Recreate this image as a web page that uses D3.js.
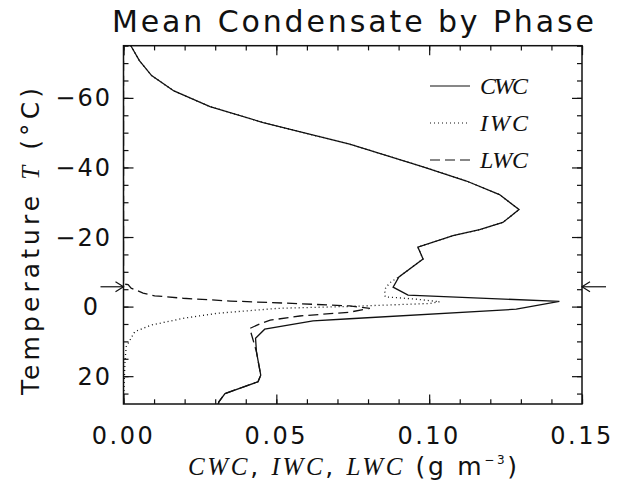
<!DOCTYPE html>
<html>
<head>
<meta charset="utf-8">
<script src="https://cdn.jsdelivr.net/npm/d3@7"></script>
<style>
  body { margin: 0; background: #fff; }
  svg { display: block; }
</style>
</head>
<body>
<svg id="chart" width="620" height="487"></svg>
<script>
// Mean condensed water content profiles (g m^-3) against temperature (°C)
const cwcTemp  = [-75, -70.7, -66.4, -62, -57.5, -52.9, -46.7, -40.2, -36.1, -32.2, -27.9, -24.2, -22.1, -20.4, -17.1, -13.7, -8.5, -5.6, -3.3, -1.5, 0.75, 3.5, 4.1, 6.5, 9.1, 13, 19.7, 21.6, 25, 27.4, 28];
const cwcValue = [0.0024, 0.0052, 0.0092, 0.0165, 0.0283, 0.0457, 0.074, 0.098, 0.1122, 0.123, 0.1294, 0.1241, 0.1165, 0.1078, 0.0963, 0.098, 0.0901, 0.0882, 0.0931, 0.1426, 0.1285, 0.074, 0.062, 0.0462, 0.0432, 0.0435, 0.0449, 0.044, 0.0332, 0.0312, 0.031];

const iwcTemp  = [-75, -70.7, -66.4, -62, -57.5, -52.9, -46.7, -40.2, -36.1, -32.2, -27.9, -24.2, -22.1, -20.4, -17.1, -13.7, -8.5, -7.2, -5.5, -4.3, -2.8, -2.2, -1.4, -0.9, -0.05, 0.5, 1.9, 3.3, 5.3, 7.2, 11.5, 15.4, 28];
const iwcValue = [0.0024, 0.0052, 0.0092, 0.0165, 0.0283, 0.0457, 0.074, 0.098, 0.1122, 0.123, 0.1294, 0.1241, 0.1165, 0.1078, 0.0963, 0.098, 0.0901, 0.0876, 0.0858, 0.0855, 0.0856, 0.095, 0.1034, 0.1002, 0.074, 0.0505, 0.0309, 0.02, 0.0091, 0.0037, 0.0009, 0.0005, 0];

const lwcTemp  = [-75, -6.5, -6.3, -5.3, -3.9, -3.1, -2.4, -1.6, -1.0, -0.2, 0.5, 1.6, 2.7, 3.9, 5.0, 6.3, 9.6, 13, 19.7, 21.6, 25, 27.4, 28];
const lwcValue = [0, 0, 0.0015, 0.0025, 0.0064, 0.0102, 0.0195, 0.035, 0.053, 0.074, 0.0806, 0.074, 0.0577, 0.048, 0.0445, 0.0413, 0.0424, 0.0435, 0.0449, 0.044, 0.0332, 0.0312, 0.031];

// Freezing-level marker temperature (arrows on both frame edges)
const markerTemp = -5.7;

const xMajorTicks = [0, 0.05, 0.10, 0.15];
const xMinorTicks = d3.range(0, 0.1501, 0.01);
const yMajorTicks = [-60, -40, -20, 0, 20];
const yMinorTicks = d3.range(-75, 28.01, 5);

const seriesNames = ["CWC", "IWC", "LWC"];
const seriesDash  = [null, "1,3", "10,5"];

const sans = "'DejaVu Sans', 'Liberation Sans', sans-serif";
const serif = "'Liberation Serif', 'DejaVu Serif', serif";
const ink = "#111";

const svg = d3.select("#chart");

const x = d3.scaleLinear().domain([0, 0.15]).range([123.5, 582]);
const y = d3.scaleLinear().domain([-75, 28]).range([45.7, 404]);

const [x0, x1] = x.range();
const [y0, y1] = y.range();

// Frame
svg.append("rect")
  .attr("x", x0).attr("y", y0)
  .attr("width", x1 - x0).attr("height", y1 - y0)
  .attr("fill", "none").attr("stroke", ink).attr("stroke-width", 1.5);

// Inward-pointing ticks on all four sides
function tickAxis(gen, scale, values, size, tx, ty) {
  const g = svg.append("g")
    .attr("transform", `translate(${tx},${ty})`)
    .call(gen(scale).tickValues(values).tickSize(size).tickFormat(""));
  g.select(".domain").remove();
  g.selectAll(".tick line").attr("stroke", ink).attr("stroke-width", 1.2);
  return g;
}
tickAxis(d3.axisBottom, x, xMinorTicks, -4.7, 0, y1);
tickAxis(d3.axisBottom, x, xMajorTicks, -9.5, 0, y1);
tickAxis(d3.axisTop, x, xMinorTicks, -4.7, 0, y0);
tickAxis(d3.axisTop, x, xMajorTicks, -9.5, 0, y0);
tickAxis(d3.axisLeft, y, yMinorTicks, -5, x0, 0);
tickAxis(d3.axisLeft, y, yMajorTicks, -10, x0, 0);
tickAxis(d3.axisRight, y, yMinorTicks, -5, x1, 0);
tickAxis(d3.axisRight, y, yMajorTicks, -10, x1, 0);

// Tick labels
const fmtX = d3.format(".2f");
svg.append("g").selectAll("text")
  .data(xMajorTicks).join("text")
  .attr("x", d => x(d)).attr("y", 444)
  .attr("text-anchor", "middle")
  .attr("font-family", sans).attr("font-size", 24)
  .attr("letter-spacing", 2.5)
  .attr("fill", ink)
  .text(d => fmtX(d));

const fmtY = d3.format("d");
svg.append("g").selectAll("text")
  .data(yMajorTicks).join("text")
  .attr("x", d => d === 0 ? 100 : 112).attr("y", d => y(d) + 8.5)
  .attr("text-anchor", "end")
  .attr("font-family", sans).attr("font-size", 24)
  .attr("letter-spacing", 2)
  .attr("fill", ink)
  .text(d => fmtY(d));

// Title
svg.append("text")
  .attr("x", 112).attr("y", 32)
  .attr("font-family", sans).attr("font-size", 30)
  .attr("textLength", 482).attr("lengthAdjust", "spacing")
  .attr("fill", ink)
  .text("Mean Condensate by Phase");

// X-axis title
const xt = svg.append("text")
  .attr("x", 188).attr("y", 475)
  .attr("font-size", 25).attr("fill", ink)
  .attr("textLength", 329).attr("lengthAdjust", "spacing");
xt.append("tspan").attr("font-family", serif).attr("font-style", "italic").text("CWC");
xt.append("tspan").attr("font-family", sans).text(", ");
xt.append("tspan").attr("font-family", serif).attr("font-style", "italic").text("IWC");
xt.append("tspan").attr("font-family", sans).text(", ");
xt.append("tspan").attr("font-family", serif).attr("font-style", "italic").text("LWC");
xt.append("tspan").attr("font-family", sans).text(" (g m");
xt.append("tspan").attr("font-family", sans).attr("font-size", 12).attr("dy", -11).text("−3");
xt.append("tspan").attr("font-family", sans).attr("dy", 11).text(")");

// Y-axis title
const yt = svg.append("text")
  .attr("transform", "translate(39,395) rotate(-90)")
  .attr("font-size", 25).attr("fill", ink)
  .attr("textLength", 307).attr("lengthAdjust", "spacing");
yt.append("tspan").attr("font-family", sans).text("Temperature ");
yt.append("tspan").attr("font-family", serif).attr("font-style", "italic").text("T");
yt.append("tspan").attr("font-family", sans).text(" (°C)");

// Profiles
const series = [
  cwcTemp.map((t, i) => ({ t, v: cwcValue[i] })),
  iwcTemp.map((t, i) => ({ t, v: iwcValue[i] })),
  lwcTemp.map((t, i) => ({ t, v: lwcValue[i] }))
];
const line = d3.line().x(d => x(d.v)).y(d => y(d.t));

svg.append("defs").append("clipPath").attr("id", "plot-clip")
  .append("rect").attr("x", x0).attr("y", y0).attr("width", x1 - x0).attr("height", y1 - y0);

svg.append("g").attr("clip-path", "url(#plot-clip)")
  .selectAll("path")
  .data(series).join("path")
  .attr("d", line)
  .attr("fill", "none")
  .attr("stroke", ink)
  .attr("stroke-width", 1.3)
  .attr("stroke-dasharray", (d, i) => seriesDash[i]);

// Legend
const legend = svg.append("g");
seriesNames.forEach((name, i) => {
  const ly = 86 + i * 37;
  legend.append("line")
    .attr("x1", 430).attr("x2", 470).attr("y1", ly).attr("y2", ly)
    .attr("stroke", ink).attr("stroke-width", 1.2)
    .attr("stroke-dasharray", seriesDash[i]);
  legend.append("text")
    .attr("x", 480).attr("y", ly + 8)
    .attr("font-family", serif).attr("font-style", "italic")
    .attr("font-size", 24)
    .attr("textLength", 48).attr("lengthAdjust", "spacing")
    .attr("fill", ink)
    .text(name);
});

// Freezing-level arrows pointing at the frame
function arrow(fromX, toX) {
  const yy = y(markerTemp);
  const dir = Math.sign(toX - fromX);
  const g = svg.append("g").attr("stroke", ink).attr("stroke-width", 1.2).attr("fill", "none");
  g.append("line").attr("x1", fromX).attr("x2", toX).attr("y1", yy).attr("y2", yy);
  g.append("path").attr("d", `M${toX - dir * 8},${yy - 5}L${toX},${yy}L${toX - dir * 8},${yy + 5}`);
}
arrow(x0 - 23, x0);
arrow(x1 + 24, x1);
</script>
</body>
</html>
